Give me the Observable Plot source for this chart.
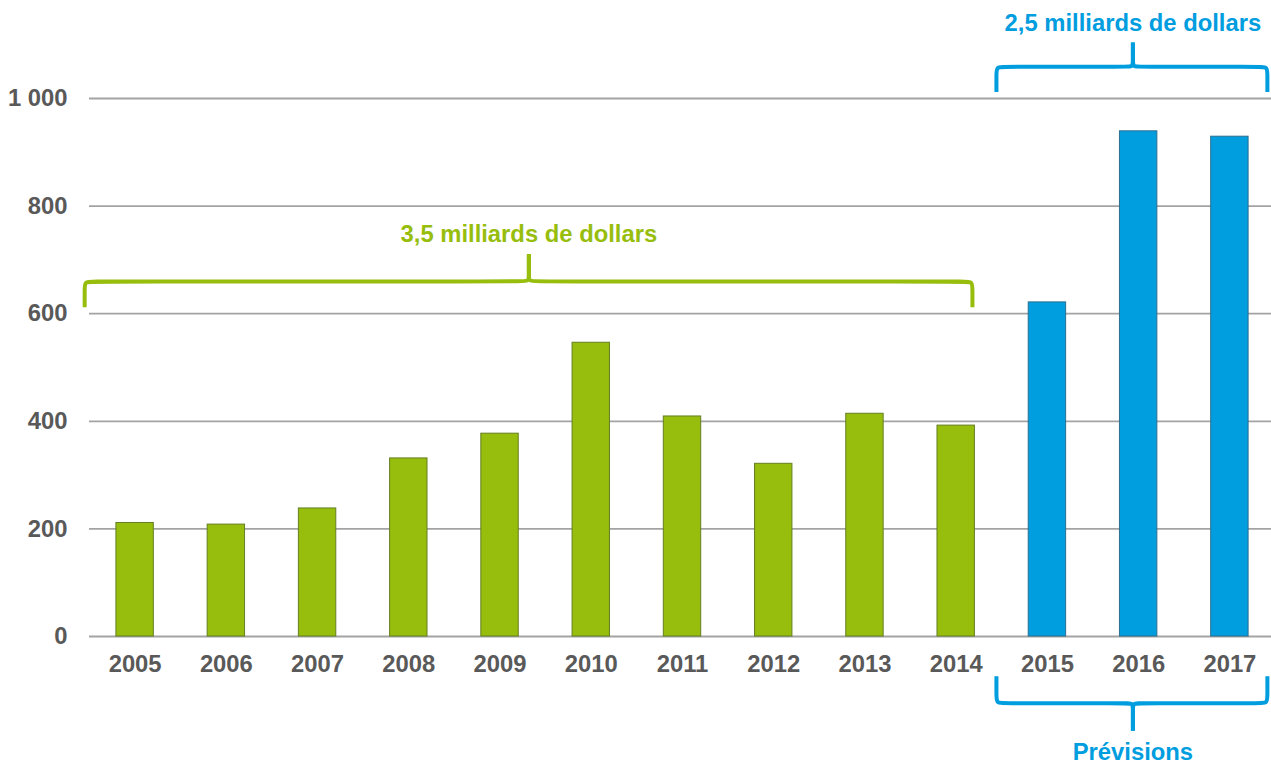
<!DOCTYPE html>
<html>
<head>
<meta charset="utf-8">
<script src="https://cdn.jsdelivr.net/npm/d3@7"></script>
<script src="https://cdn.jsdelivr.net/npm/@observablehq/plot@0.6"></script>
<style>
  html, body { margin: 0; padding: 0; background: #fff; }
  #chart svg { display: block; overflow: visible; }
</style>
</head>
<body>
<div id="chart"></div>
<script>
// ---- Data ----
const years = ["2005","2006","2007","2008","2009","2010","2011","2012","2013","2014","2015","2016","2017"];
const values = [211, 208, 238, 331, 377, 546, 409, 321, 414, 392, 621, 939, 929];
const isForecast = [false,false,false,false,false,false,false,false,false,false,true,true,true];
const yTicks = [0, 200, 400, 600, 800, 1000];
const braceLabels = ["3,5 milliards de dollars", "2,5 milliards de dollars", "Prévisions"];

// Brace anchors in data units (x = year index, y = value scale)
const braceX1 = [-0.553, 9.441, 9.441];
const braceX2 = [9.178, 12.411, 12.411];
const braceXm = [4.316, 10.937, 10.937];
const braceYBase = [660, 1059, -124];
const braceYEnd = [612, 1012, -74];
const braceYTip = [711, 1104, -175];
const braceLabelY = [748, 1140, -215];

const GREEN = "#97bd0d";
const BLUE = "#009ddf";
const braceColors = [GREEN, BLUE, BLUE];

const rows = years.map((y, i) => ({i, year: y, value: values[i], forecast: isForecast[i]}));

const frFmt = d3.formatLocale({decimal: ",", thousands: " ", grouping: [3], currency: ["", ""]}).format(",d");

function bracePoints(k) {
  const x1 = braceX1[k], x2 = braceX2[k], xm = braceXm[k];
  const yb = braceYBase[k], ye = braceYEnd[k], yt = braceYTip[k];
  const rx = 0.085, ry = 15, rtx = 0.07, rty = 13;
  const e = Math.sign(ye - yb), s = Math.sign(yt - yb);
  const left = [[x1, ye], [x1, yb + e * ry], [x1, yb], [x1 + rx, yb], [xm - rtx, yb], [xm, yb], [xm, yb + s * rty], [xm, yt]];
  const right = [[x2, ye], [x2, yb + e * ry], [x2, yb], [x2 - rx, yb], [xm + rtx, yb], [xm, yb], [xm, yb + s * rty], [xm, yt]];
  return [
    ...left.map(([x, y]) => ({x, y, id: k + "L"})),
    ...right.map(([x, y]) => ({x, y, id: k + "R"}))
  ];
}

const font = "'Liberation Sans', Arial, Helvetica, sans-serif";

const braceMarks = [];
for (let k = 0; k < 3; k++) {
  braceMarks.push(Plot.line(bracePoints(k), {
    x: "x", y: "y", z: "id", stroke: braceColors[k], strokeWidth: 4,
    curve: "basis", strokeLinecap: "butt", strokeLinejoin: "round"
  }));
  braceMarks.push(Plot.text([{x: braceXm[k], y: braceLabelY[k], t: braceLabels[k]}], {
    x: "x", y: "y", text: "t", fill: braceColors[k], fontSize: 23.8, fontWeight: "bold",
    fontFamily: font, textAnchor: "middle", lineAnchor: "middle"
  }));
}

const chart = Plot.plot({
  width: 1271,
  height: 763,
  marginLeft: 89,
  marginRight: -4,
  marginTop: 0,
  marginBottom: 0,
  style: {fontFamily: font, background: "#fff", overflow: "visible"},
  x: {type: "linear", domain: [-0.5, 12.5], axis: null, label: null},
  y: {domain: [0, 1000], range: [636, 98], axis: null, label: null},
  marks: [
    Plot.ruleY(yTicks, {stroke: "#a3a3a3", strokeWidth: 1.8, strokeOpacity: 1}),
    Plot.rectY(rows, {
      x1: d => d.i - 0.205, x2: d => d.i + 0.205, y: "value",
      fill: d => d.forecast ? BLUE : GREEN,
      stroke: d => d.forecast ? "#2a6f90" : "#647f22",
      strokeWidth: 1
    }),
    Plot.axisY({ticks: yTicks, tickSize: 0, tickPadding: 22, tickFormat: frFmt, label: null,
      fontSize: 23.8, fontWeight: "bold", fill: "#595959", fontFamily: font}),
    Plot.text(rows, {x: "i", y: () => 0, text: "year", dy: 28, lineAnchor: "middle", textAnchor: "middle",
      fontSize: 23.8, fontWeight: "bold", fill: "#595959", fontFamily: font}),
    ...braceMarks
  ]
});

document.getElementById("chart").appendChild(chart);
</script>
</body>
</html>
